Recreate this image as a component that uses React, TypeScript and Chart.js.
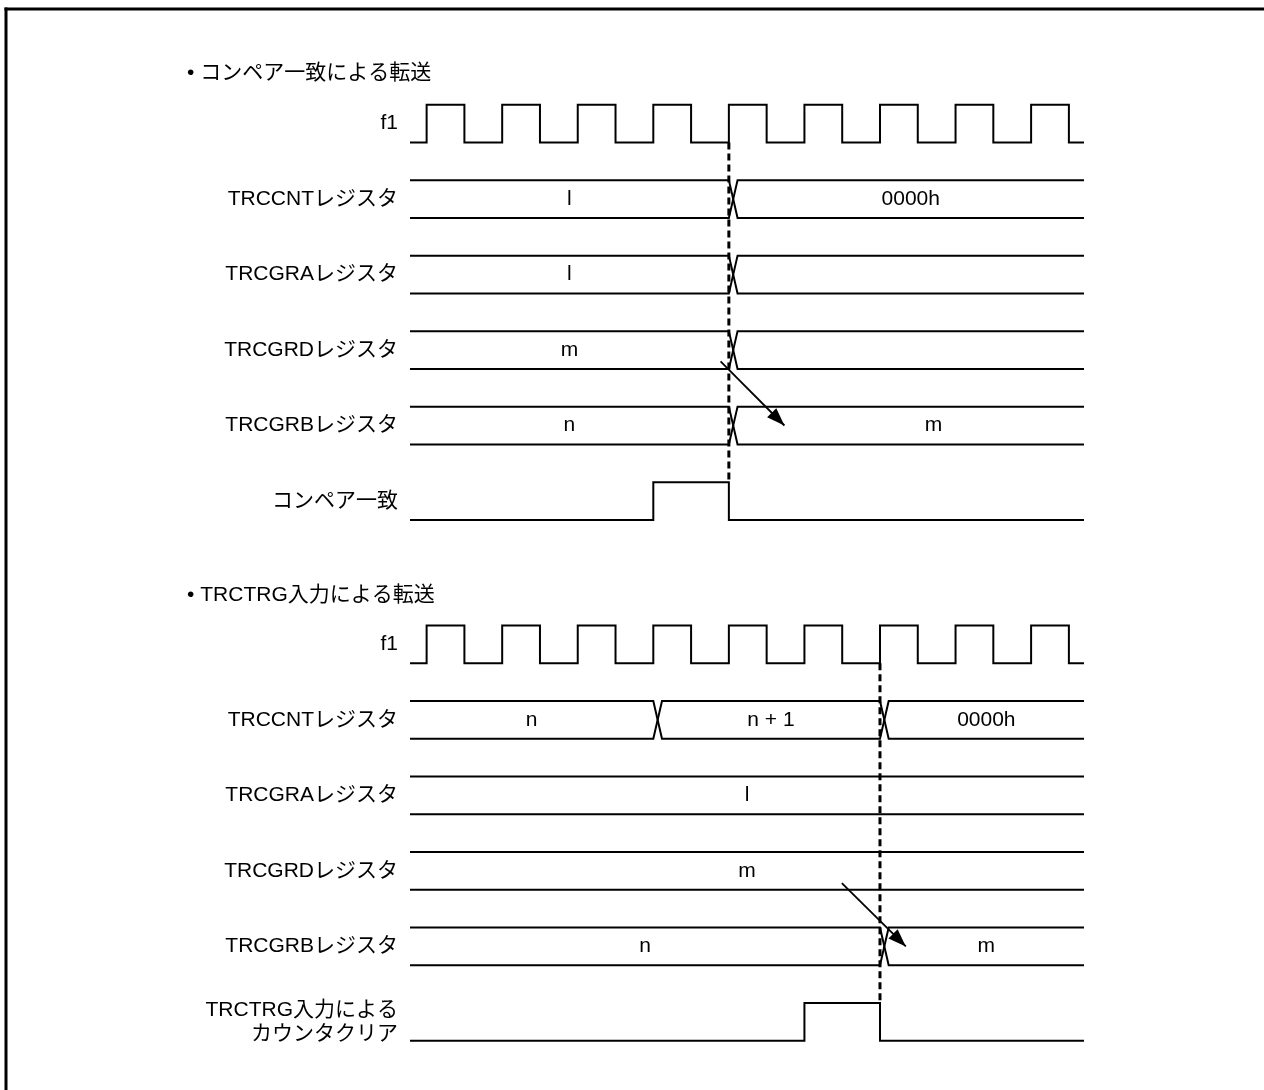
import React, { useEffect, useRef } from 'react';
import { Chart, registerables } from 'chart.js';

Chart.register(...registerables);

const FONT = "'Liberation Sans', Arial, 'Noto Sans CJK JP', sans-serif";

// ---- time axis (units = f1 clock periods) ----
const timeStart = -0.22;
const timeEnd = 8.7;
const clockEdges = [0, 0.5, 1, 1.5, 2, 2.5, 3, 3.5, 4, 4.5, 5, 5.5, 6, 6.5, 7, 7.5, 8, 8.5];

// ---- lanes / labels ----
const sectionTitles = ['• コンペア一致による転送', '• TRCTRG入力による転送'];
const sectionBase = [0, 6.9];
const laneOffsets = [0, 1, 2, 3, 4, 5];
const signalLabels: (string | string[])[] = [
  'f1', 'TRCCNTレジスタ', 'TRCGRAレジスタ', 'TRCGRDレジスタ', 'TRCGRBレジスタ', 'コンペア一致',
  'f1', 'TRCCNTレジスタ', 'TRCGRAレジスタ', 'TRCGRDレジスタ', 'TRCGRBレジスタ', ['TRCTRG入力による', 'カウンタクリア'],
];

// ---- section 1: compare match transfer ----
const cmpCntValues = ['l', '0000h'];
const cmpCntChanges = [4];
const cmpGraValues = ['l', ''];
const cmpGraChanges = [4];
const cmpGrdValues = ['m', ''];
const cmpGrdChanges = [4];
const cmpGrbValues = ['n', 'm'];
const cmpGrbChanges = [4];
const cmpGrbLabelShift = [0, 0.3];
const cmpPulse = [3, 4];
const cmpMarker = 4;
const cmpArrow = [[3.89, 3.15], [4.735, 4.0]];

// ---- section 2: TRCTRG input transfer ----
const trgCntValues = ['n', 'n + 1', '0000h'];
const trgCntChanges = [3, 6];
const trgGraValues = ['l'];
const trgGraChanges: number[] = [];
const trgGrdValues = ['m'];
const trgGrdChanges: number[] = [];
const trgGrbValues = ['n', 'm'];
const trgGrbChanges = [6];
const trgPulse = [5, 6];
const trgMarker = 6;
const trgArrow = [[5.495, 3.16], [6.342, 4.0]];

// ---- drawing constants ----
const H = 0.25; // half signal height (lane units)
const W = 0.115; // bus crossing width (time units)

type P = { x: number; y: number };

function clockPath(lane: number): P[] {
  const hi = lane - H, lo = lane + H;
  const pts: P[] = [{ x: timeStart, y: lo }];
  clockEdges.forEach((e, i) => {
    if (i % 2 === 0) { pts.push({ x: e, y: lo }, { x: e, y: hi }); }
    else { pts.push({ x: e, y: hi }, { x: e, y: lo }); }
  });
  pts.push({ x: timeEnd, y: lo });
  return pts;
}

function busPaths(lane: number, changes: number[]): P[][] {
  const hi = lane - H, lo = lane + H;
  const a: P[] = [{ x: timeStart, y: hi }];
  const b: P[] = [{ x: timeStart, y: lo }];
  let top = true;
  for (const c of changes) {
    a.push({ x: c, y: top ? hi : lo }, { x: c + W, y: top ? lo : hi });
    b.push({ x: c, y: top ? lo : hi }, { x: c + W, y: top ? hi : lo });
    top = !top;
  }
  a.push({ x: timeEnd, y: top ? hi : lo });
  b.push({ x: timeEnd, y: top ? lo : hi });
  return [a, b];
}

function busLabels(lane: number, changes: number[], values: string[], shift?: number[]) {
  const bounds = [timeStart, ...changes.flatMap((c) => [c, c + W]), timeEnd];
  return values.map((v, i) => ({
    text: v,
    x: (bounds[2 * i] + bounds[2 * i + 1]) / 2 + (shift ? shift[i] : 0),
    y: lane,
  }));
}

function pulsePath(lane: number, pulse: number[]): P[] {
  const hi = lane - H, lo = lane + H;
  return [
    { x: timeStart, y: lo }, { x: pulse[0], y: lo }, { x: pulse[0], y: hi },
    { x: pulse[1], y: hi }, { x: pulse[1], y: lo }, { x: timeEnd, y: lo },
  ];
}

const lineDs = (data: P[], extra: any = {}) => ({
  type: 'line' as const,
  data,
  borderColor: '#000',
  borderWidth: 2,
  pointRadius: 0,
  tension: 0,
  fill: false,
  borderJoinStyle: 'miter',
  borderCapStyle: 'butt',
  ...extra,
});

function buildSection(base: number, buses: { ch: number[]; vals: string[]; shift?: number[] }[], pulse: number[], marker: number, arrow: number[][]) {
  const datasets: any[] = [];
  const labels: { text: string; x: number; y: number }[] = [];
  datasets.push(lineDs(clockPath(base + laneOffsets[0])));
  buses.forEach((bus, i) => {
    const lane = base + laneOffsets[i + 1];
    busPaths(lane, bus.ch).forEach((p) => datasets.push(lineDs(p)));
    labels.push(...busLabels(lane, bus.ch, bus.vals, bus.shift));
  });
  datasets.push(lineDs(pulsePath(base + laneOffsets[5], pulse)));
  datasets.push(lineDs(
    [{ x: marker, y: base + laneOffsets[0] + H }, { x: marker, y: base + laneOffsets[5] - H }],
    { borderDash: [7, 4], borderWidth: 3 }
  ));
  datasets.push(lineDs(
    arrow.map(([x, y]) => ({ x, y: base + y })),
    { borderWidth: 1.8, isArrow: true }
  ));
  return { datasets, labels };
}

const sec1 = buildSection(sectionBase[0], [
  { ch: cmpCntChanges, vals: cmpCntValues },
  { ch: cmpGraChanges, vals: cmpGraValues },
  { ch: cmpGrdChanges, vals: cmpGrdValues },
  { ch: cmpGrbChanges, vals: cmpGrbValues, shift: cmpGrbLabelShift },
], cmpPulse, cmpMarker, cmpArrow);

const sec2 = buildSection(sectionBase[1], [
  { ch: trgCntChanges, vals: trgCntValues },
  { ch: trgGraChanges, vals: trgGraValues },
  { ch: trgGrdChanges, vals: trgGrdValues },
  { ch: trgGrbChanges, vals: trgGrbValues },
], trgPulse, trgMarker, trgArrow);

const laneCenters = sectionBase.flatMap((b) => laneOffsets.map((o) => b + o));
const valueLabels = [...sec1.labels, ...sec2.labels];
const titlePos = [[-3.17, -0.67], [-3.17, 6.25]];

const framePlugin = {
  id: 'frame',
  beforeDraw(chart: any) {
    const { ctx, width, height } = chart;
    ctx.save();
    ctx.fillStyle = '#fff';
    ctx.fillRect(0, 0, width, height);
    ctx.fillStyle = '#000';
    ctx.fillRect(4.5, 7.5, width, 3);
    ctx.fillRect(4.5, 7.5, 3, height);
    ctx.restore();
  },
};

const arrowPlugin = {
  id: 'arrowHeads',
  afterDatasetsDraw(chart: any) {
    const ctx = chart.ctx;
    chart.data.datasets.forEach((ds: any, i: number) => {
      if (!ds.isArrow) return;
      const pts = chart.getDatasetMeta(i).data;
      const p0 = pts[pts.length - 2], p1 = pts[pts.length - 1];
      const ang = Math.atan2(p1.y - p0.y, p1.x - p0.x);
      ctx.save();
      ctx.translate(p1.x, p1.y);
      ctx.rotate(ang);
      ctx.fillStyle = '#000';
      ctx.beginPath();
      ctx.moveTo(0, 0);
      ctx.lineTo(-18, -6.5);
      ctx.lineTo(-18, 6.5);
      ctx.closePath();
      ctx.fill();
      ctx.restore();
    });
  },
};

const textPlugin = {
  id: 'texts',
  afterDraw(chart: any) {
    const { ctx, scales } = chart;
    const xs = scales.x, ys = scales.y;
    ctx.save();
    ctx.fillStyle = '#000';
    ctx.textBaseline = 'middle';
    ctx.font = `21px ${FONT}`;
    ctx.textAlign = 'center';
    valueLabels.forEach((l) => {
      if (!l.text) return;
      ctx.fillText(l.text, xs.getPixelForValue(l.x), ys.getPixelForValue(l.y));
    });
    ctx.textAlign = 'left';
    sectionTitles.forEach((t, i) => {
      ctx.fillText(t, xs.getPixelForValue(titlePos[i][0]), ys.getPixelForValue(titlePos[i][1]));
    });
    ctx.restore();
  },
};

export default function App() {
  const ref = useRef<HTMLCanvasElement | null>(null);
  useEffect(() => {
    if (!ref.current) return;
    const chart = new Chart(ref.current, {
      type: 'line',
      data: { datasets: [...sec1.datasets, ...sec2.datasets] },
      options: {
        animation: false,
        responsive: false,
        events: [],
        layout: { padding: { left: 0, right: 180, top: 48, bottom: 22.75 } },
        plugins: { legend: { display: false }, tooltip: { enabled: false } },
        scales: {
          x: { type: 'linear', min: timeStart, max: timeEnd, display: false },
          y: {
            type: 'linear',
            min: -1,
            max: 12.5,
            reverse: true,
            grid: { display: false },
            border: { display: false },
            afterBuildTicks: (scale: any) => {
              scale.ticks = laneCenters.map((v) => ({ value: v }));
            },
            afterFit: (scale: any) => {
              scale.width = 410;
            },
            ticks: {
              autoSkip: false,
              padding: 4,
              color: '#000',
              font: { family: FONT, size: 21, lineHeight: 1.15 },
              callback: (_v: any, i: number) => signalLabels[i],
            },
          },
        },
      } as any,
      plugins: [framePlugin, arrowPlugin, textPlugin],
    });
    return () => chart.destroy();
  }, []);
  return (
    <div style={{ position: 'absolute', left: 0, top: 0, width: 1264, height: 1090, background: '#fff' }}>
      <canvas ref={ref} width={1264} height={1090} style={{ display: 'block' }} />
    </div>
  );
}
